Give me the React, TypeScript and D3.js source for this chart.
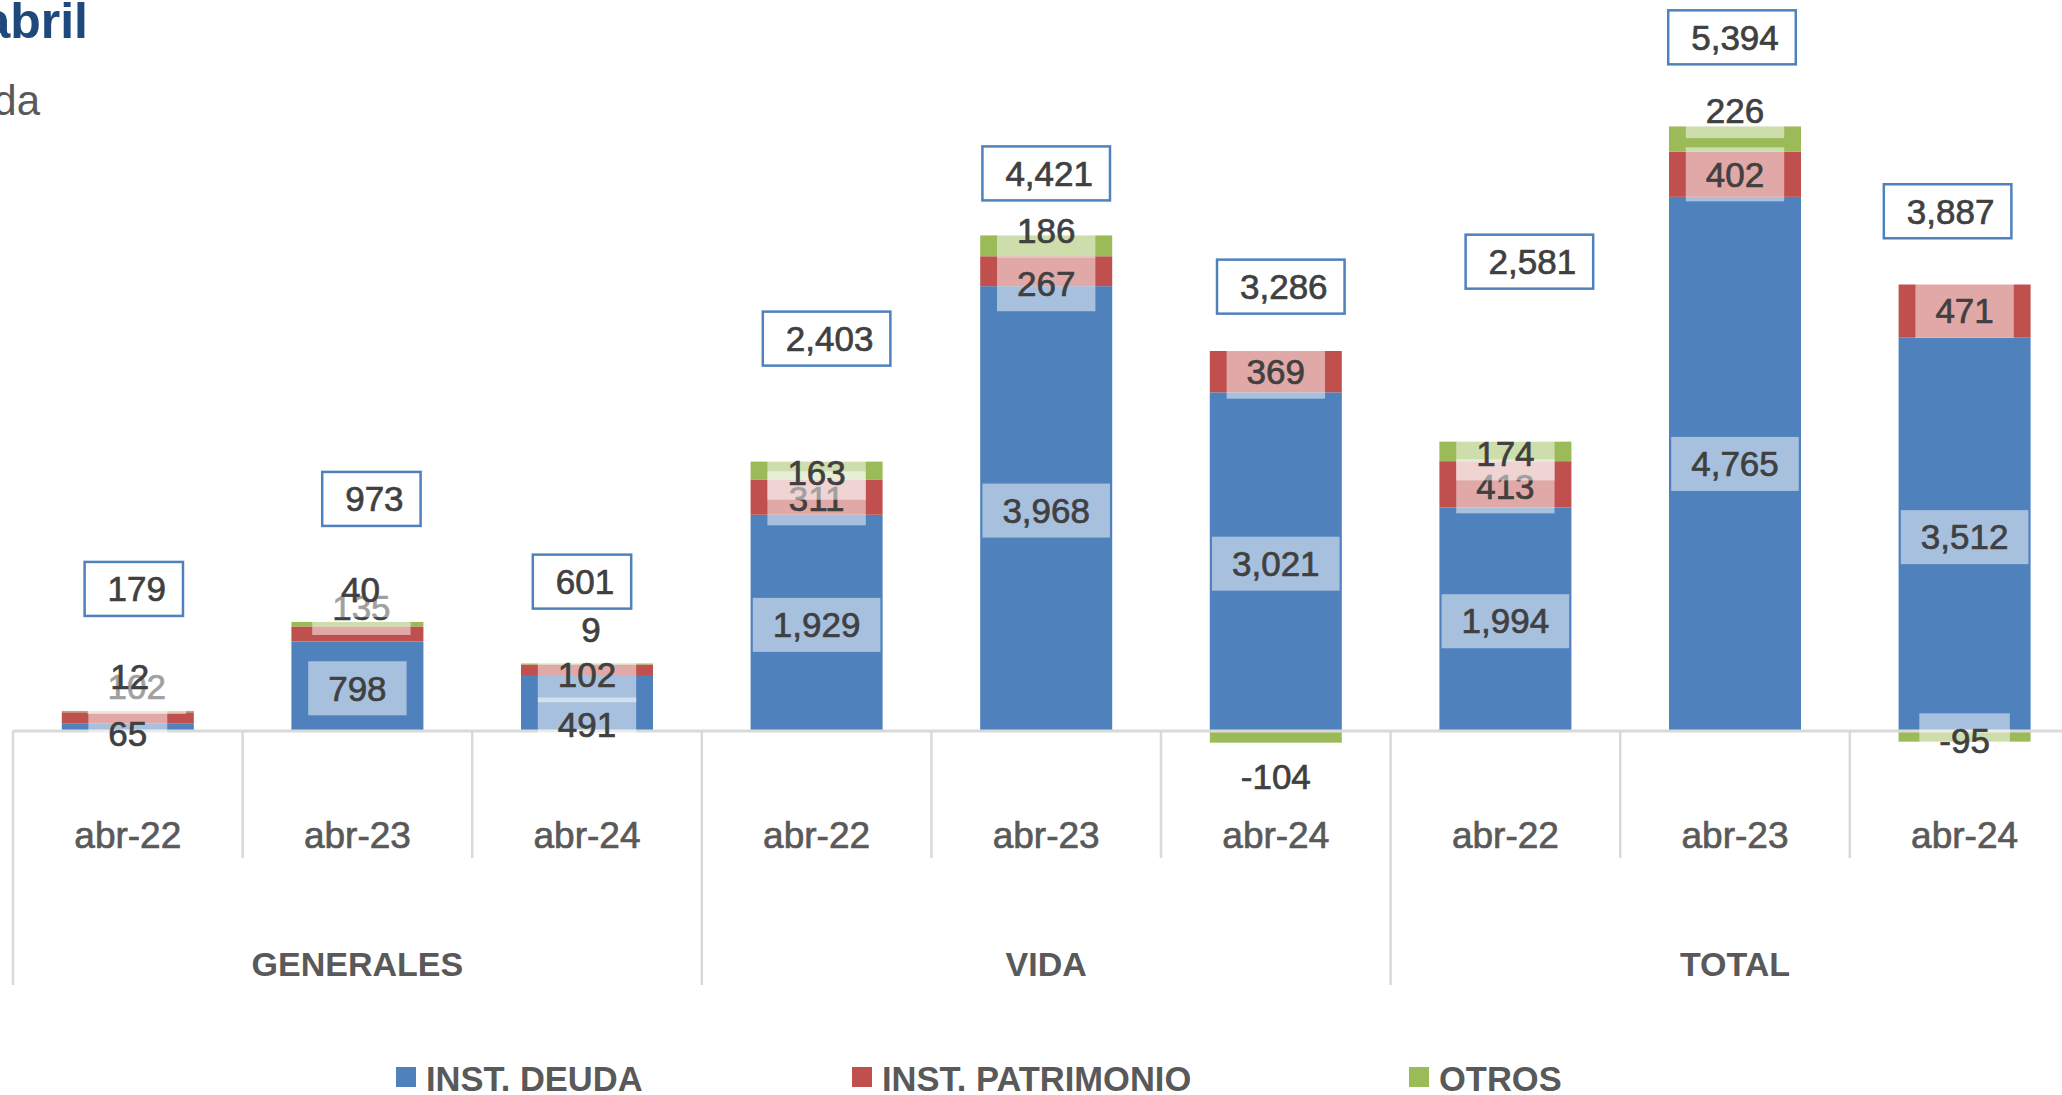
import React from "react";
import * as d3 from "d3";

// ---------- data ----------
const groups = ["GENERALES", "VIDA", "TOTAL"];
const periods = ["abr-22", "abr-23", "abr-24"];
const seriesNames = ["INST. DEUDA", "INST. PATRIMONIO", "OTROS"];
const instDeuda = [65, 798, 491, 1929, 3968, 3021, 1994, 4765, 3512];
const instPatrimonio = [102, 135, 102, 311, 267, 369, 413, 402, 471];
const otros = [12, 40, 9, 163, 186, -104, 174, 226, -95];
const totals = [179, 973, 601, 2403, 4421, 3286, 2581, 5394, 3887];

// ---------- layout / style ----------
const W = 2062;
const H = 1095;
const FONT = "'Liberation Sans', Arial, sans-serif";
const colors = ["#4F81BD", "#C0504D", "#9BBB59"];
const baseY = 731;
const pxPerUnit = 0.1121;
const left = 13;
const step = 229.6;

// manual label nudges [dx, dy] in px per series (as dragged in the original)
const labelNudge: [number, number][][] = [
  [[0, 6], [0, 2], [0, 21], [0, 2], [0, 2], [0, 2], [0, 2], [0, 0], [0, 3]],
  [[9, -31], [4, -26], [0, 5], [0, 1], [0, 13], [0, 0], [0, 2], [0, 0], [0, 0]],
  [[2, -35], [3, -34], [4, -34], [0, 2], [0, -15], [0, 40], [0, 2], [0, -28], [0, 4]],
];
// total box offsets [dx, dy] from category centre / stack total
const totalNudge: [number, number][] = [
  [6, -122], [14, -123], [-5, -82], [10, -123], [0, -62], [5, -76], [24, -180], [-3, -89], [-17, -84],
];
const legendX = [396, 852, 1409];

const fmt = (v: number) => d3.format(",")(v).replace("\u2212", "-");
const textW = (s: string, fs: number) =>
  s.split("").reduce((a, c) => a + (c === "," ? 0.278 : c === "-" ? 0.333 : 0.556), 0) * fs;

export default function App() {
  const n = instDeuda.length;
  const cats = d3.range(n);
  const x = d3
    .scaleBand<number>()
    .domain(cats)
    .range([left, left + n * step])
    .paddingInner(0.425)
    .paddingOuter(0.2125);
  const bw = x.bandwidth();
  const y = d3.scaleLinear().domain([0, 6000]).range([baseY, baseY - 6000 * pxPerUnit]);

  const rows = cats.map((i) => ({ d: instDeuda[i], p: instPatrimonio[i], o: otros[i] }));
  const layers = d3
    .stack<{ d: number; p: number; o: number }>()
    .keys(["d", "p", "o"])
    .offset(d3.stackOffsetDiverging)(rows as any);

  const cx = (i: number) => (x(i) as number) + bw / 2;
  const fs = 35;
  const boxH = 54;

  return (
    <svg
      width={W}
      height={H}
      style={{ position: "absolute", left: 0, top: 0, background: "#fff" }}
      fontFamily={FONT}
    >
      <rect x={0} y={0} width={W} height={H} fill="#fff" />
      {/* title fragments */}
      <text x={88} y={38} textAnchor="end" fontSize={50} fontWeight="bold" fill="#1F497D">
        abril
      </text>
      <text x={40} y={115} textAnchor="end" fontSize={42} fill="#595959">
        da
      </text>

      {/* bars */}
      {layers.map((layer, si) => (
        <g key={si} fill={colors[si]}>
          {layer.map((seg, i) => (
            <rect
              key={i}
              x={x(i)}
              width={bw}
              y={Math.min(y(seg[0]), y(seg[1]))}
              height={Math.abs(y(seg[0]) - y(seg[1]))}
            />
          ))}
        </g>
      ))}

      {/* axis */}
      <line x1={left} x2={W} y1={baseY} y2={baseY} stroke="#D9D9D9" strokeWidth={3} />
      {d3.range(n).map((k) => {
        const xx = left + k * step;
        return (
          <line
            key={k}
            x1={xx}
            x2={xx}
            y1={baseY}
            y2={k % 3 === 0 ? 985 : 858}
            stroke="#D9D9D9"
            strokeWidth={2.5}
          />
        );
      })}
      {cats.map((i) => (
        <text key={i} x={cx(i)} y={848} textAnchor="middle" fontSize={37} fill="#595959" stroke="#595959" strokeWidth={0.7}>
          {periods[i % 3]}
        </text>
      ))}
      {groups.map((g, gi) => (
        <text key={g} x={cx(gi * 3 + 1)} y={976} textAnchor="middle" fontSize={34} fontWeight="bold" fill="#595959">
          {g}
        </text>
      ))}

      {/* series data labels */}
      {layers.map((layer, si) => (
        <g key={"l" + si}>
          {layer.map((seg, i) => {
            const v = [instDeuda, instPatrimonio, otros][si][i];
            const s = fmt(v);
            const [dx, dy] = labelNudge[si][i];
            const lx = cx(i) + dx;
            const ly = y((seg[0] + seg[1]) / 2) + dy;
            const w = textW(s, fs) + 40;
            return (
              <g key={i}>
                <rect x={lx - w / 2} y={ly - boxH / 2} width={w} height={boxH} fill="#fff" fillOpacity={0.5} />
                <text x={lx} y={ly} dy="0.35em" textAnchor="middle" fontSize={fs} fill="#404040" stroke="#404040" strokeWidth={0.7}>
                  {s}
                </text>
              </g>
            );
          })}
        </g>
      ))}

      {/* totals */}
      {totals.map((t, i) => {
        const s = fmt(t);
        const [dx, dy] = totalNudge[i];
        const lx = cx(i) + dx;
        const ly = y(t) + dy;
        const w = textW(s, fs) + 40;
        return (
          <g key={"t" + i}>
            <rect x={lx - w / 2} y={ly - boxH / 2} width={w} height={boxH} fill="#fff" stroke="#4F81BD" strokeWidth={2.5} />
            <text x={lx + 3} y={ly} dy="0.35em" textAnchor="middle" fontSize={fs} fill="#404040" stroke="#404040" strokeWidth={0.7}>
              {s}
            </text>
          </g>
        );
      })}

      {/* legend */}
      {seriesNames.map((name, si) => (
        <g key={name}>
          <rect x={legendX[si]} y={1067} width={20} height={20} fill={colors[si]} />
          <text x={legendX[si] + 30} y={1091} fontSize={34.5} fontWeight="bold" fill="#595959">
            {name}
          </text>
        </g>
      ))}
    </svg>
  );
}
